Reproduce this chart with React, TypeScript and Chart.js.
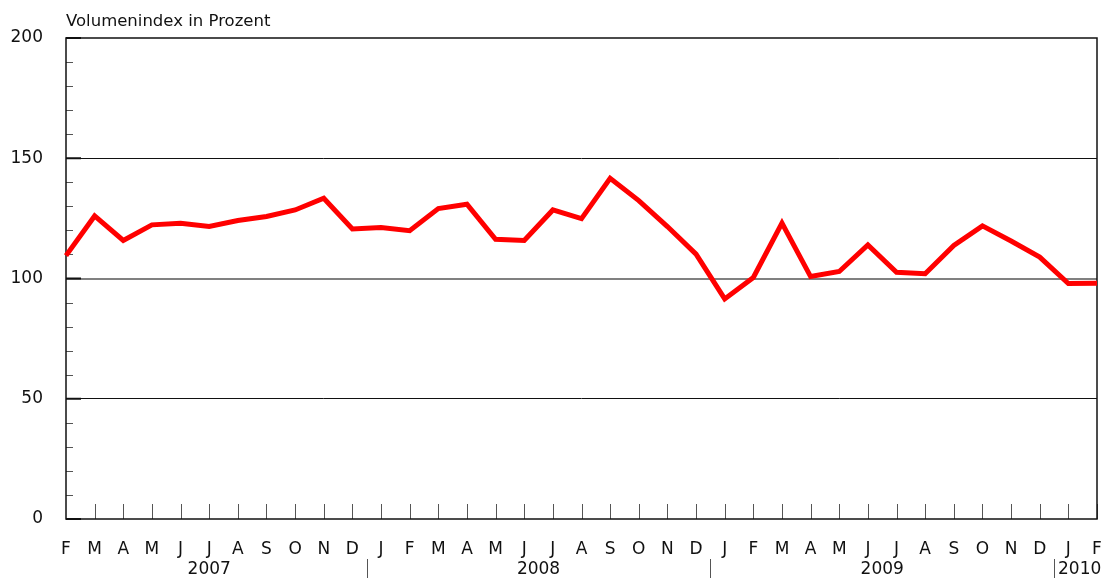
import React, { useEffect, useRef } from 'react';
import { Chart, registerables } from 'chart.js';

Chart.register(...registerables);

const FONT = '"DejaVu Sans", sans-serif';

const monthLabels = ['F','M','A','M','J','J','A','S','O','N','D','J','F','M','A','M','J','J','A','S','O','N','D','J','F','M','A','M','J','J','A','S','O','N','D','J','F'];

const volumeIndex = [109.5,126.0,115.8,122.3,123.0,121.6,124.1,125.8,128.5,133.4,120.6,121.2,119.9,129.1,130.9,116.3,115.8,128.5,124.9,141.7,132.4,121.6,110.1,91.5,100.4,123.0,100.8,102.9,114.0,102.6,102.0,113.7,121.9,115.6,108.9,97.9,98.0];

const yearLabels = ['2007','2008','2009','2010'];
const yearMonthCounts = [11, 12, 12, 2];

const yMajorTicks = [0, 50, 100, 150, 200];

const titleText = 'Volumenindex in Prozent';

export default function App() {
  const ref = useRef<HTMLCanvasElement>(null);

  useEffect(() => {
    const overlay = {
      id: 'overlay',
      beforeDatasetsDraw(chart: any) {
        const ctx = chart.ctx;
        const a = chart.chartArea;
        const xs = chart.scales.x;
        const ys = chart.scales.y;
        ctx.save();
        for (let v = 10; v < 200; v += 10) {
          if (v % 50 === 0) continue;
          const y = Math.round(ys.getPixelForValue(v)) + 0.5;
          ctx.strokeStyle = '#555';
          ctx.lineWidth = 1;
          ctx.beginPath();
          ctx.moveTo(a.left, y);
          ctx.lineTo(a.left + 7, y);
          ctx.stroke();
        }
        yMajorTicks.forEach((v) => {
          const y = ys.getPixelForValue(v);
          ctx.strokeStyle = '#111';
          ctx.lineWidth = 2;
          ctx.beginPath();
          ctx.moveTo(a.left, y);
          ctx.lineTo(a.left + 15, y);
          ctx.stroke();
        });
        for (let i = 1; i < monthLabels.length; i++) {
          const x = Math.round(xs.getPixelForValue(i)) + 0.5;
          ctx.strokeStyle = '#555';
          ctx.lineWidth = 1;
          ctx.beginPath();
          ctx.moveTo(x, a.bottom);
          ctx.lineTo(x, a.bottom - 15);
          ctx.stroke();
        }
        ctx.strokeStyle = '#111';
        ctx.lineWidth = 1.5;
        ctx.strokeRect(a.left, a.top, a.right - a.left, a.bottom - a.top);
        ctx.restore();
      },
      afterDraw(chart: any) {
        const ctx = chart.ctx;
        const a = chart.chartArea;
        const xs = chart.scales.x;
        ctx.save();
        ctx.fillStyle = '#111';
        ctx.font = '16.5px ' + FONT;
        ctx.textAlign = 'left';
        ctx.textBaseline = 'alphabetic';
        ctx.fillText(titleText, a.left, 26);
        ctx.font = '17px ' + FONT;
        ctx.textAlign = 'center';
        ctx.textBaseline = 'middle';
        let start = 0;
        yearLabels.forEach((lab, k) => {
          const end = start + yearMonthCounts[k] - 1;
          let cx = (xs.getPixelForValue(start) + xs.getPixelForValue(end)) / 2;
          const w = ctx.measureText(lab).width;
          if (k === yearLabels.length - 1) {
            const sepX = (xs.getPixelForValue(start - 1) + xs.getPixelForValue(start)) / 2;
            cx = sepX + 4 + w / 2;
          }
          ctx.fillText(lab, cx, 570);
          if (k > 0) {
            const sx = Math.round((xs.getPixelForValue(start - 1) + xs.getPixelForValue(start)) / 2) + 0.5;
            ctx.strokeStyle = '#555';
            ctx.lineWidth = 1;
            ctx.beginPath();
            ctx.moveTo(sx, 559);
            ctx.lineTo(sx, 578);
            ctx.stroke();
          }
          start = end + 1;
        });
        ctx.restore();
      },
    };

    const chart = new Chart(ref.current as HTMLCanvasElement, {
      type: 'line',
      data: {
        labels: monthLabels,
        datasets: [
          {
            data: volumeIndex,
            borderColor: '#ff0000',
            borderWidth: 5,
            pointRadius: 0,
            tension: 0,
            borderJoinStyle: 'miter',
            fill: false,
          },
        ],
      },
      options: {
        animation: false,
        responsive: true,
        maintainAspectRatio: false,
        layout: { padding: { left: 0, right: 11, top: 38, bottom: 0 } },
        plugins: { legend: { display: false }, tooltip: { enabled: false }, title: { display: false } },
        scales: {
          x: {
            type: 'category',
            offset: false,
            grid: { display: false, drawTicks: false },
            border: { display: false },
            ticks: {
              autoSkip: false,
              maxRotation: 0,
              minRotation: 0,
              padding: 20,
              color: '#111',
              font: { family: FONT, size: 17 },
            },
            afterFit(scale: any) {
              scale.height = 59;
              scale.paddingLeft = 0;
              scale.paddingRight = 0;
            },
          },
          y: {
            min: 0,
            max: 200,
            border: { display: false },
            grid: {
              drawTicks: false,
              color: (c: any) => {
                const v = c.tick ? c.tick.value : 0;
                if (v === 100) return '#808080';
                if (v === 50 || v === 150) return '#111';
                return 'rgba(0,0,0,0)';
              },
              lineWidth: (c: any) => (c.tick && c.tick.value === 100 ? 2 : 1),
            },
            ticks: {
              stepSize: 10,
              autoSkip: false,
              padding: 23,
              color: '#111',
              font: { family: FONT, size: 17 },
              callback: (v: any) => (Number(v) % 50 === 0 ? String(v) : ''),
            },
            afterFit(scale: any) {
              scale.width = 66;
              scale.paddingTop = 0;
              scale.paddingBottom = 0;
            },
          },
        },
      },
      plugins: [overlay],
    } as any);

    return () => chart.destroy();
  }, []);

  return (
    <div style={{ position: 'absolute', left: 0, top: 0, width: 1108, height: 578, background: '#fff' }}>
      <canvas ref={ref} />
    </div>
  );
}
